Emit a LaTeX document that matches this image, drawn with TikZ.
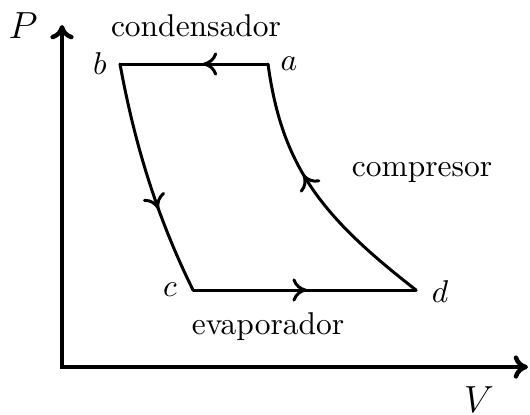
\documentclass[tikz,border=0pt]{standalone}
\usetikzlibrary{arrows.meta, decorations.markings}

\begin{document}
\begin{tikzpicture}[x=1.116cm, y=1.116cm, >={To[length=1.6mm, width=2.6mm]}, line width=0.95pt,
  flecha/.style={postaction={decorate, decoration={markings,
      mark=at position #1 with {\arrow{>}}}}}]
  \useasboundingbox (-0.62,-0.47) rectangle (4.68,3.67);
  % ejes P-V
  \coordinate (O) at (0,0);
  \coordinate (Pmax) at (0,3.42);
  \coordinate (Vmax) at (4.66,0);
  \draw[<->, line width=1.4pt] (Pmax) -- (O) -- (Vmax);
  \node[font=\large] (ejeP) at (-0.39,3.41) {$P$};
  \node[font=\large] (ejeV) at (4.17,-0.33) {$V$};
  % estados del ciclo
  \coordinate (a) at (2.06,3.03);
  \coordinate (b) at (0.58,3.03);
  \coordinate (c) at (1.31,0.77);
  \coordinate (d) at (3.54,0.77);
  \node (etqa) at (2.27,3.03) {$a$};
  \node (etqb) at (0.38,3.03) {$b$};
  \node (etqc) at (1.08,0.77) {$c$};
  \node (etqd) at (3.78,0.75) {$d$};
  % ciclo de refrigeracion
  \draw[flecha=0.44, line cap=round] (a) -- (b);
  \draw[flecha=0.63, line cap=round] (b) .. controls (0.75,2.1) and (1.0,1.4) .. (c);
  \draw[flecha=0.51, line cap=round] (c) -- (d);
  \draw[flecha=0.58, line cap=round] (d) .. controls (2.6,1.5) and (2.2,2.0) .. (a);
  % etapas
  \node (cond) at (1.34,3.41) {condensador};
  \node (comp) at (3.60,1.95) {compresor};
  \node (evap) at (2.06,0.40) {evaporador};
\end{tikzpicture}
\end{document}
